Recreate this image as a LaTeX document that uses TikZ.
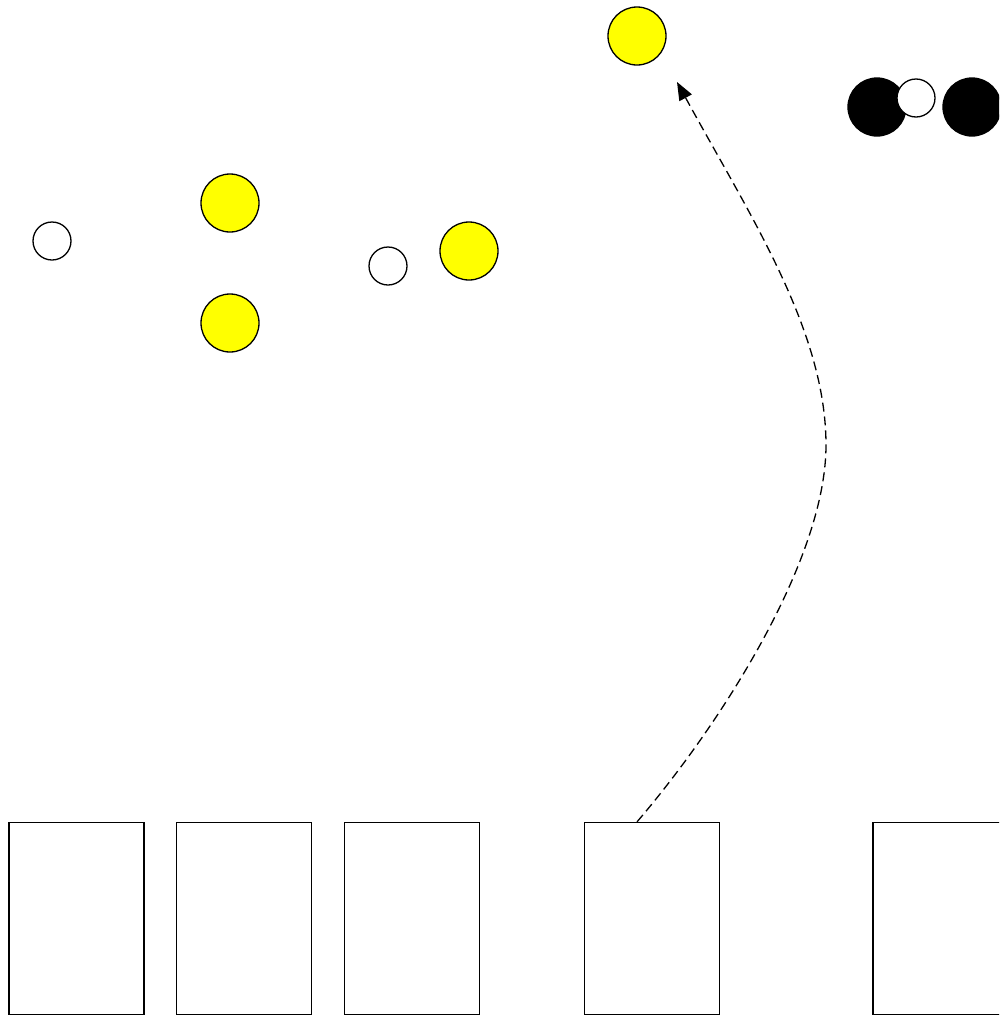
\documentclass[tikz,border=0pt]{standalone}
\usepackage{tikz}
\usetikzlibrary{arrows.meta,positioning}
\definecolor{colorTOK}{RGB}{255,255,0}
\colorlet{colorHOLE}{white}
\colorlet{colorFULL}{black}
\tikzset{
   slot/.style={draw=black,fill=white,rectangle,minimum width=135pt,minimum height=192pt,inner sep=0pt},
   tok/.style={draw=black,fill=colorTOK,circle,minimum size=58pt,inner sep=0pt},
   hole/.style={draw=black,fill=colorHOLE,circle,minimum size=38pt,inner sep=0pt},
   full/.style={draw=colorFULL,fill=colorFULL,circle,minimum size=58pt,inner sep=0pt},
   jump/.style={-{Triangle[length=18pt,width=14pt]},draw=black,dash pattern=on 9pt off 5pt},
}
\begin{document}
\begin{tikzpicture}[x=1pt,y=-1pt,line width=1.3pt]

\clip (0,0) rectangle (999,1015);

% =========================================================
% slots
% =========================================================

\node[slot] (s1) at (76.5,918.5) {};
\node[slot] (s2) at (244,918.5) {};
\node[slot] (s3) at (412,918.5) {};
\node[slot] (s4) at (652,918.5) {};
\node[slot] (s5) at (940.5,918.5) {};


% =========================================================
% left group
% =========================================================

\node[hole] (h1) at (52,241) {};
\node[tok] (t1) at (230,203) {};
\node[tok] (t2) at (230,323) {};

\node[hole] (h2) at (388,266) {};
\node[tok] (t3) at (469,251) {};


% =========================================================
% top
% =========================================================

\node[tok] (t4) at (637,36) {};

\node[full] (f1) at (877,107) {};
\node[full] (f2) at (972,107) {};
\node[hole] (h3) at (916,98) {};


% jump from slot 4
\coordinate (bend) at (826,445);
\coordinate (tip) at (677,82);
\draw[jump] (s4.north -| 637,0) .. controls (720,725) and (826,560) .. (bend)
   .. controls (826,330) and (749,214) .. (tip);

\end{tikzpicture}
\end{document}
